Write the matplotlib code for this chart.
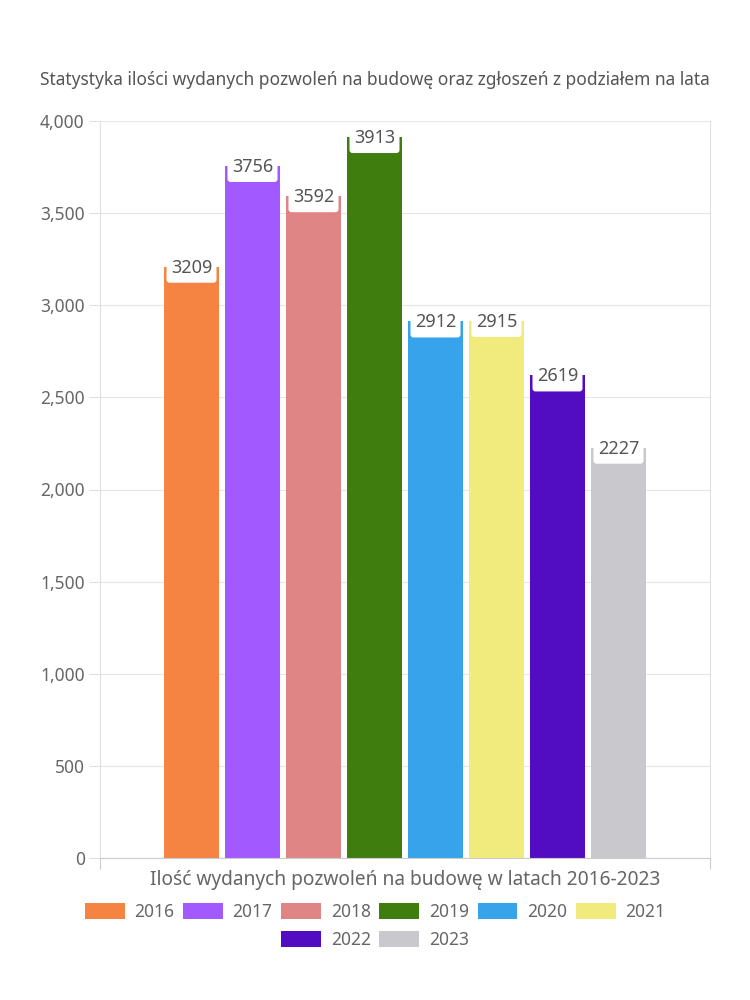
import matplotlib
matplotlib.use("Agg")
import matplotlib.pyplot as plt
from matplotlib.patches import FancyBboxPatch
from matplotlib.ticker import FuncFormatter, MultipleLocator

years = ["2016", "2017", "2018", "2019", "2020", "2021", "2022", "2023"]
values = [3209, 3756, 3592, 3913, 2912, 2915, 2619, 2227]
colors = ["#F58442", "#A259FF", "#E08585", "#3E7D0E", "#37A3EA", "#F0EB7C", "#520DC2", "#C9C9CD"]
title = "Statystyka ilości wydanych pozwoleń na budowę oraz zgłoszeń z podziałem na lata"
xlabel = "Ilość wydanych pozwoleń na budowę w latach 2016-2023"

plt.rcParams['font.family'] = ['Noto Sans', 'DejaVu Sans']
TXT = "#666666"

fig = plt.figure(figsize=(7.5, 10), dpi=100)
ax = fig.add_axes([100/750, 142/1000, 610/750, 737/1000])

ymax = 4000
ax.set_ylim(0, ymax)
ax.set_xlim(-1.5, 8.5)
bw = 55/61
bars = []
for i, (y, v, c) in enumerate(zip(years, values, colors)):
    b = ax.bar(i, v, width=bw, color=c, label=y, zorder=2)
    bars.append(b)

# label boxes
upp = ymax / 737.0  # data units per pixel in y
xpp = 1 / 61.0
for i, v in enumerate(values):
    w = bw - 2*2.5*xpp
    top = v + 12*upp
    bot = v - 16*upp
    p = FancyBboxPatch((i - w/2, bot), w, top - bot,
                       boxstyle="round,pad=0,rounding_size=%f" % (3*xpp),
                       mutation_aspect=upp/xpp, facecolor="white",
                       edgecolor="none", zorder=3)
    ax.add_patch(p)
    ax.text(i, v - 1*upp, str(v), ha="center", va="center", fontsize=13,
            color="#555555", zorder=4)

ax.yaxis.set_major_locator(MultipleLocator(500))
ax.yaxis.set_major_formatter(FuncFormatter(lambda x, p: f"{int(x):,}"))
ax.grid(axis="y", color="#E6E6E6", linewidth=0.8, zorder=0)
ax.set_xticks([-1.5, 8.5])
ax.set_xticklabels(["", ""])
ax.tick_params(axis="x", length=8, color="#CCCCCC", width=0.8)
ax.tick_params(axis="y", length=8, color="#E0E0E0", width=0.8, labelsize=12.5,
               labelcolor=TXT, pad=3)
for s in ["left", "right", "top"]:
    ax.spines[s].set_color("#E0E0E0")
    ax.spines[s].set_linewidth(0.8)
ax.spines["top"].set_visible(False)
ax.spines["bottom"].set_color("#CCCCCC")
ax.spines["bottom"].set_linewidth(0.8)

fig.text(375/750, 1 - 80/1000, title, ha="center", va="center", fontsize=12.5, color="#555555")
fig.text(405/750, 1 - 880/1000, xlabel, ha="center", va="center", fontsize=13.8, color=TXT)

handles = [b for b in bars]
kw = dict(frameon=False, fontsize=12.5, labelcolor=TXT, handlelength=2.3,
          handleheight=1.05, handletextpad=0.55, columnspacing=0.5,
          borderaxespad=0, borderpad=0)
leg1 = fig.legend(handles[:6], years[:6], ncol=6, loc="center",
                  bbox_to_anchor=(375/750, 1 - 912/1000), **kw)
leg2 = fig.legend(handles[6:], years[6:], ncol=2, loc="center",
                  bbox_to_anchor=(375/750, 1 - 940/1000), **kw)

fig.savefig("out.png", dpi=100)
